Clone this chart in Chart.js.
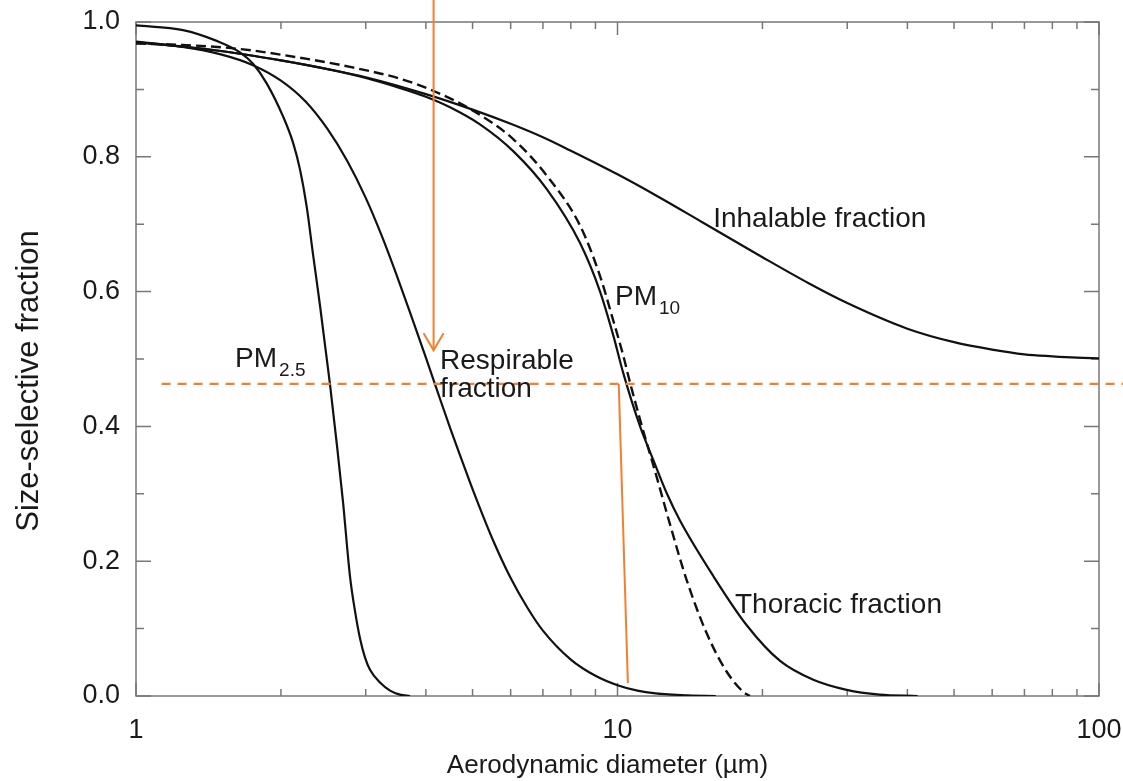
<!DOCTYPE html>
<html>
<head>
<meta charset="utf-8">
<script src="https://cdn.jsdelivr.net/npm/chart.js@4.4.1/dist/chart.umd.min.js"></script>
<style>
  html, body { margin: 0; padding: 0; background: #fff; }
  #wrap { width: 1123px; height: 781px; }
</style>
</head>
<body>
<div id="wrap"><canvas id="chart" width="1123" height="781"></canvas></div>
<script>
// aerodynamic diameter (µm) and size-selective fraction
const inhalableD = [1, 1.5, 2, 2.5, 3, 4, 5, 6, 7, 8, 10, 12, 15, 20, 25, 30, 40, 50, 60, 70, 80, 90, 100];
const inhalableF = [0.971, 0.957, 0.943, 0.930, 0.918, 0.893, 0.870, 0.849, 0.829, 0.809, 0.774, 0.743, 0.703, 0.651, 0.612, 0.583, 0.545, 0.525, 0.514, 0.507, 0.504, 0.502, 0.501];

const thoracicD = [1, 1.5, 2, 2.5, 3, 3.5, 4, 4.5, 5.18, 6.08, 7.13, 8.36, 9.2, 9.8, 10.28, 11.14, 11.87, 12.67, 13.49, 15.81, 18.55, 21.76, 25.51, 29.92, 35, 42];
const thoracicF = [0.970, 0.957, 0.943, 0.930, 0.917, 0.903, 0.889, 0.873, 0.848, 0.808, 0.752, 0.672, 0.600, 0.535, 0.479, 0.40, 0.35, 0.30, 0.26, 0.178, 0.105, 0.052, 0.024, 0.009, 0.002, 0];

const pm10D = [1, 1.25, 1.64, 2.19, 2.8, 3.53, 4.14, 4.94, 6.08, 7.13, 8.36, 9.2, 9.8, 10.28, 10.6, 11.14, 12.06, 12.85, 13.92, 15.32, 16.86, 18.25, 18.84];
const pm10F = [0.968, 0.966, 0.960, 0.947, 0.933, 0.916, 0.898, 0.871, 0.826, 0.772, 0.698, 0.623, 0.557, 0.505, 0.467, 0.41, 0.325, 0.255, 0.172, 0.093, 0.036, 0.006, 0];

const respirableD = [1, 1.25, 1.5, 1.75, 2, 2.25, 2.5, 2.75, 3, 3.25, 3.5, 3.75, 4, 4.25, 4.5, 4.75, 5, 5.5, 6, 6.5, 7, 8, 9, 10, 11, 12, 14, 16];
const respirableF = [0.970, 0.963, 0.952, 0.936, 0.913, 0.882, 0.841, 0.793, 0.739, 0.680, 0.619, 0.559, 0.502, 0.447, 0.396, 0.350, 0.307, 0.233, 0.175, 0.131, 0.097, 0.054, 0.030, 0.016, 0.008, 0.004, 0.001, 0];

const pm25D = [1, 1.252, 1.471, 1.644, 1.75, 1.868, 2.02, 2.119, 2.191, 2.262, 2.331, 2.411, 2.528, 2.615, 2.691, 2.782, 2.85, 2.92, 2.99, 3.062, 3.212, 3.37, 3.534, 3.707];
const pm25F = [0.995, 0.988, 0.972, 0.955, 0.938, 0.909, 0.860, 0.821, 0.781, 0.726, 0.656, 0.579, 0.463, 0.371, 0.288, 0.178, 0.126, 0.085, 0.057, 0.039, 0.020, 0.008, 0.002, 0];

// orange construction lines
const cutFraction = 0.463;
const cutLineD = [1.13, 120];
const arrowD = 4.15;
const arrowF = [1.035, 0.513];
const dropD = [10.06, 10.51];
const dropF = [0.463, 0.019];

// axes
const xTickLabels = [1, 10, 100];
const xMinorTicks = [2, 3, 4, 5, 6, 7, 8, 9, 20, 30, 40, 50, 60, 70, 80, 90];
const yTickLabels = [0, 0.2, 0.4, 0.6, 0.8, 1.0];
const yMinorTicks = [0.1, 0.3, 0.5, 0.7, 0.9];

// curve labels (anchored in data units: left edge / baseline)
const curveLabels = [
    { text: 'Inhalable fraction', d: 15.8, v: 0.696 },
    { text: 'Thoracic fraction', d: 17.54, v: 0.1227 },
    { text: 'PM', sub: '10', d: 9.88, v: 0.580 },
    { text: 'PM', sub: '2.5', d: 1.606, v: 0.4877 },
    { text: 'Respirable', d: 4.28, v: 0.4847 },
    { text: 'fraction', d: 4.28, v: 0.444 }
];

const FONT = "'Liberation Sans', Arial, Helvetica, sans-serif";
const ORANGE = '#f2802e';

const toPoints = (xs, ys) => xs.map((d, i) => ({ x: d, y: ys[i] }));

function curve(label, xs, ys, dash) {
    return {
        label: label,
        data: toPoints(xs, ys),
        borderColor: '#111',
        borderWidth: dash ? 2.4 : 2.2,
        borderDash: dash || [],
        pointRadius: 0,
        fill: false,
        cubicInterpolationMode: 'monotone'
    };
}

function orangeLine(label, pts, dash, width) {
    return {
        label: label,
        data: pts,
        borderColor: ORANGE,
        borderWidth: width,
        borderDash: dash || [],
        pointRadius: 0,
        fill: false,
        tension: 0,
        clip: false
    };
}

// keep label overhang from pushing the plot area around
function fixBox(s, w, h) {
    if (w !== null) s.width = w;
    if (h !== null) s.height = h;
    s.paddingLeft = 0;
    s.paddingRight = 0;
    s.paddingTop = 0;
    s.paddingBottom = 0;
}

// inward tick marks and the box around the plot
const frameTicks = {
    id: 'frameTicks',
    beforeDatasetsDraw(chart) {
        const { ctx, chartArea: a, scales: { x, y } } = chart;
        ctx.save();
        ctx.strokeStyle = '#777';
        ctx.lineWidth = 1.5;
        ctx.strokeRect(a.left, a.top, a.right - a.left, a.bottom - a.top);
        ctx.beginPath();
        const xt = (v, len) => {
            const px = x.getPixelForValue(v);
            ctx.moveTo(px, a.bottom); ctx.lineTo(px, a.bottom - len);
            ctx.moveTo(px, a.top); ctx.lineTo(px, a.top + len);
        };
        const yt = (v, len) => {
            const py = y.getPixelForValue(v);
            ctx.moveTo(a.left, py); ctx.lineTo(a.left + len, py);
            ctx.moveTo(a.right, py); ctx.lineTo(a.right - len, py);
        };
        xTickLabels.forEach(v => xt(v, 13));
        xMinorTicks.forEach(v => xt(v, 7));
        yTickLabels.forEach(v => yt(v, 15));
        yMinorTicks.forEach(v => yt(v, 8));
        ctx.stroke();
        ctx.restore();
    }
};

// arrow head, curve labels and axis titles
const annotations = {
    id: 'annotations',
    afterDatasetsDraw(chart) {
        const { ctx, chartArea: a, scales: { x, y } } = chart;
        ctx.save();

        const tipX = x.getPixelForValue(arrowD);
        const tipY = y.getPixelForValue(arrowF[1]);
        ctx.strokeStyle = ORANGE;
        ctx.lineWidth = 2;
        ctx.beginPath();
        ctx.moveTo(tipX - 10, tipY - 17);
        ctx.lineTo(tipX, tipY);
        ctx.lineTo(tipX + 10, tipY - 17);
        ctx.stroke();

        ctx.fillStyle = '#1a1a1a';
        ctx.textBaseline = 'alphabetic';
        ctx.textAlign = 'left';
        curveLabels.forEach(l => {
            const px = x.getPixelForValue(l.d);
            const py = y.getPixelForValue(l.v);
            ctx.font = '28px ' + FONT;
            ctx.fillText(l.text, px, py);
            if (l.sub) {
                const w = ctx.measureText(l.text).width;
                ctx.font = '19px ' + FONT;
                ctx.fillText(l.sub, px + w + 2, py + 9);
            }
        });

        ctx.font = '26px ' + FONT;
        ctx.textAlign = 'center';
        ctx.fillText('Aerodynamic diameter (µm)', (a.left + a.right) / 2 - 10, 773);

        ctx.translate(38, (a.top + a.bottom) / 2 + 22);
        ctx.rotate(-Math.PI / 2);
        ctx.font = '31px ' + FONT;
        ctx.fillText('Size-selective fraction', 0, 0);
        ctx.restore();
    }
};

new Chart(document.getElementById('chart'), {
    type: 'line',
    data: {
        datasets: [
            orangeLine('cut', [{ x: cutLineD[0], y: cutFraction }, { x: cutLineD[1], y: cutFraction }], [9, 7], 2.2),
            orangeLine('arrow', [{ x: arrowD, y: arrowF[0] }, { x: arrowD, y: arrowF[1] }], null, 2),
            orangeLine('drop', toPoints(dropD, dropF), null, 2),
            curve('PM2.5', pm25D, pm25F),
            curve('Respirable fraction', respirableD, respirableF),
            curve('PM10', pm10D, pm10F, [10, 5]),
            curve('Thoracic fraction', thoracicD, thoracicF),
            curve('Inhalable fraction', inhalableD, inhalableF)
        ]
    },
    options: {
        responsive: false,
        animation: false,
        layout: { padding: { left: 0, right: 24, top: 22, bottom: 0 } },
        plugins: { legend: { display: false }, tooltip: { enabled: false } },
        scales: {
            x: {
                type: 'logarithmic',
                min: 1,
                max: 100,
                afterBuildTicks: s => { s.ticks = xTickLabels.map(v => ({ value: v })); },
                afterFit: s => fixBox(s, null, 85),
                ticks: {
                    callback: v => String(v),
                    padding: 18,
                    maxRotation: 0,
                    color: '#1a1a1a',
                    font: { family: FONT, size: 27 }
                },
                grid: { display: false, drawTicks: false },
                border: { display: false }
            },
            y: {
                min: 0,
                max: 1,
                afterBuildTicks: s => { s.ticks = yTickLabels.map(v => ({ value: v })); },
                afterFit: s => fixBox(s, 136, null),
                ticks: {
                    callback: v => v.toFixed(1),
                    padding: 16,
                    color: '#1a1a1a',
                    font: { family: FONT, size: 27 }
                },
                grid: { display: false, drawTicks: false },
                border: { display: false }
            }
        }
    },
    plugins: [frameTicks, annotations]
});
</script>
</body>
</html>
